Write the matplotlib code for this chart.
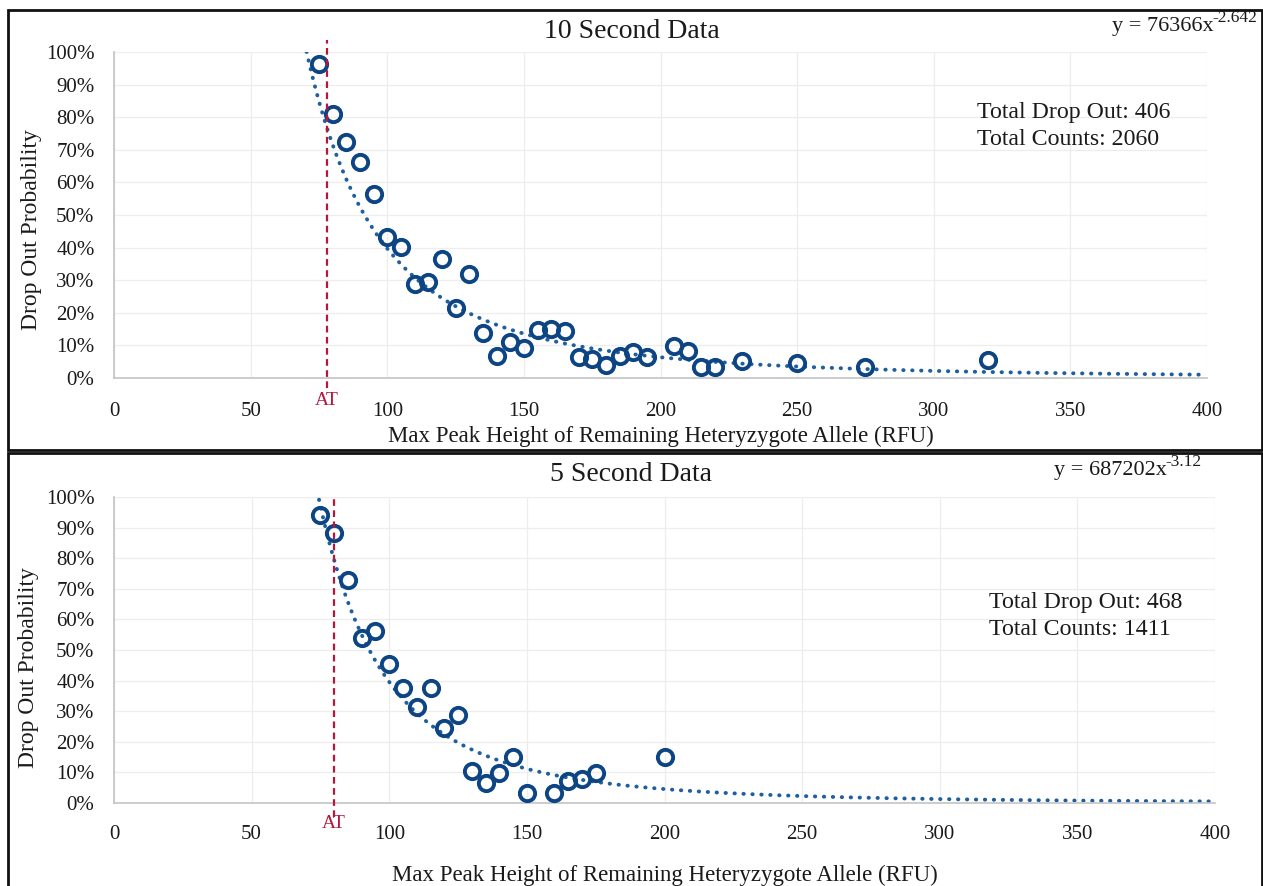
import numpy as np
import matplotlib
matplotlib.use("Agg")
import matplotlib.pyplot as plt
from matplotlib.patches import Rectangle
from matplotlib.ticker import PercentFormatter

plt.rcParams["font.family"] = ["Liberation Serif", "DejaVu Serif"]

# 10 second injection
x_10s = [75, 80, 85, 90, 95, 100, 105, 110, 115, 120, 125, 130, 135, 140, 145,
         150, 155, 160, 165, 170, 175, 180, 185, 190, 195, 205, 210, 215, 220,
         230, 250, 275, 320]
y_10s = [0.962, 0.81, 0.723, 0.662, 0.563, 0.432, 0.401, 0.287, 0.294, 0.365,
         0.214, 0.319, 0.139, 0.067, 0.111, 0.093, 0.147, 0.149, 0.145, 0.065,
         0.057, 0.040, 0.067, 0.079, 0.065, 0.098, 0.084, 0.034, 0.034, 0.052,
         0.046, 0.034, 0.055]
fit_10s = (76366, "-2.642")
at_10s = 78
totals_10s = (406, 2060)

# 5 second injection
x_5s = [75, 80, 85, 90, 95, 100, 105, 110, 115, 120, 125, 130, 135, 140, 145,
        150, 160, 165, 170, 175, 200]
y_5s = [0.941, 0.881, 0.729, 0.538, 0.562, 0.454, 0.377, 0.313, 0.377, 0.244,
        0.288, 0.106, 0.064, 0.097, 0.149, 0.034, 0.034, 0.073, 0.077, 0.097,
        0.149]
fit_5s = (687202, "-3.12")
at_5s = 80
totals_5s = (468, 1411)

W, H = 1263, 886
fig = plt.figure(figsize=(W / 100, H / 100), dpi=100)

MARK = "#0d4584"
TREND = "#1f5f9e"
AT_RED = "#b5173c"
INK = "#1a1a1a"


def px_box(left, top, right, bottom):
    return [left / W, 1 - bottom / H, (right - left) / W, (bottom - top) / H]


def panel(box, xs, ys, fit, at, totals, title, title_y, eq_xy, tot_xy,
          at_span, tick_pad, xlab_pad, ylab_xy):
    ax = fig.add_axes(box)
    a, b = fit
    xf = np.linspace(60, 400, 600)
    ax.plot(xf, a * xf ** float(b), color=TREND, lw=2.8, ls=(0, (0.1, 2.2)),
            dash_capstyle="round", zorder=2)
    ax.plot(xs, ys, ls="none", marker="o", ms=11, mfc="none", mec=MARK,
            mew=2.8, zorder=3)
    ax.plot([at, at], at_span, color=AT_RED, lw=1.6, ls=(0, (3, 2)),
            clip_on=False, zorder=4)

    ax.set_xlim(0, 400)
    ax.set_ylim(0, 1)
    ax.set_xticks(np.arange(0, 401, 50))
    ax.set_yticks(np.arange(0, 1.01, 0.1))
    ax.yaxis.set_major_formatter(PercentFormatter(1.0, decimals=0))
    ax.grid(True, color="#ededed", lw=0.9)
    ax.set_axisbelow(True)
    for s in ("top", "right"):
        ax.spines[s].set_visible(False)
    for s in ("left", "bottom"):
        ax.spines[s].set_color("#c4c4c4")
        ax.spines[s].set_linewidth(1.2)
    ax.tick_params(length=0, labelsize=15, colors=INK)
    ax.tick_params(axis="x", pad=tick_pad)
    ax.tick_params(axis="y", pad=14)

    ax.text(at, -0.068, "AT", color=AT_RED, fontsize=14, ha="center",
            va="center", transform=ax.get_xaxis_transform())
    ax.set_ylabel("Drop Out Probability", fontsize=17, color=INK)
    ax.yaxis.set_label_coords(*ylab_xy)
    ax.set_xlabel("Max Peak Height of Remaining Heteryzygote Allele (RFU)",
                  fontsize=16.5, color=INK, labelpad=xlab_pad)

    fig.text(0.5, 1 - title_y / H, title, fontsize=20, ha="center",
             va="center", color=INK)

    # trend equation: exponent first, base text hung off its left edge
    sup = fig.text(eq_xy[0] / W, 1 - eq_xy[1] / H, b, fontsize=12.5,
                   ha="right", va="baseline", color=INK)
    ax.annotate("y = %dx" % a, xy=(0, 0), xycoords=sup, xytext=(1.2, -3.5),
                textcoords="offset points", fontsize=16, ha="right",
                va="baseline", color=INK, annotation_clip=False)

    fig.text(tot_xy[0] / W, 1 - tot_xy[1] / H,
             "Total Drop Out: %d\nTotal Counts: %d" % totals, fontsize=17.2,
             ha="left", va="center", color=INK, linespacing=1.4)
    return ax


panel(px_box(114, 52, 1207, 378), x_10s, y_10s, fit_10s, at_10s, totals_10s,
      "10 Second Data", 31, (1257, 22), (977, 126), [-0.03, 1.037], 17, 4,
      (-0.066, 0.454))
panel(px_box(114, 497, 1215, 803), x_5s, y_5s, fit_5s, at_5s, totals_5s,
      "5 Second Data", 474, (1201, 466), (989, 616), [-0.045, 1.0], 16, 15,
      (-0.068, 0.441))

# frames around the two panels
for top, bottom in ((10, 450), (453, 900)):
    fig.patches.append(Rectangle((8 / W, 1 - bottom / H), 1254 / W,
                                 (bottom - top) / H, transform=fig.transFigure,
                                 fill=False, ec="#111111", lw=2.0))

fig.savefig("out.png", dpi=100)
